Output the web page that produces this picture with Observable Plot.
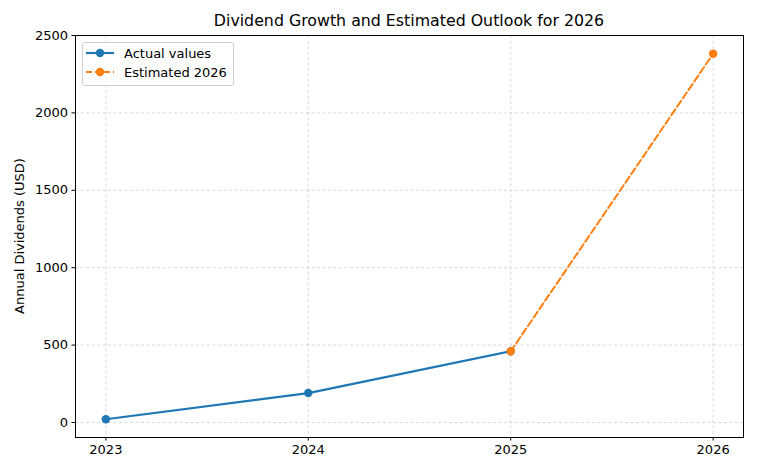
<!DOCTYPE html>
<html><head><meta charset="utf-8">
<script src="https://cdn.jsdelivr.net/npm/d3@7"></script>
<script src="https://cdn.jsdelivr.net/npm/@observablehq/plot@0.6"></script>
<style>
body{margin:0;background:#fff;font-family:"DejaVu Sans",sans-serif;}
#wrap{position:relative;width:758px;height:474px;overflow:hidden;}
#title{position:absolute;left:75px;width:668px;top:11px;text-align:center;font-size:15.8px;color:#000;line-height:20px;}
#ylab{position:absolute;left:20px;top:236px;transform:translate(-50%,-50%) rotate(-90deg);font-size:13px;white-space:nowrap;line-height:16px;}
#legend{position:absolute;left:82px;top:42px;width:150px;height:42px;border:1px solid #d0d0d0;border-radius:3px;background:rgba(255,255,255,0.8);font-size:13px;}
.row{position:absolute;left:2px;height:20px;display:flex;align-items:center;}
.row span{margin-left:9px;}
</style></head><body>
<div id="wrap"></div>
<script>
const years = [2023, 2024, 2025];
const actual = [21, 190, 460];
const estYears = [2025, 2026];
const estimated = [460, 2382];
const xTicks = [2023, 2024, 2025, 2026];
const yTicks = [0, 500, 1000, 1500, 2000, 2500];
const titleText = "Dividend Growth and Estimated Outlook for 2026";
const yLabel = "Annual Dividends (USD)";
const seriesNames = ["Actual values", "Estimated 2026"];
const colors = ["#1f77b4", "#ff7f0e"];

const actualData = years.map((y, i) => ({year: y, value: actual[i]}));
const estData = estYears.map((y, i) => ({year: y, value: estimated[i]}));

const chart = Plot.plot({
  width: 758, height: 474,
  marginLeft: 75, marginRight: 15, marginTop: 35, marginBottom: 37,
  style: {fontFamily: "DejaVu Sans, sans-serif", fontSize: "13px", background: "white", color: "black"},
  x: {type: "linear", domain: [2022.85, 2026.15]},
  y: {domain: [-97, 2500]},
  marks: [
    Plot.ruleX(xTicks, {x: d => d, stroke: "#b0b0b0", strokeOpacity: 0.6, strokeWidth: 0.8, strokeDasharray: "3,2.5"}),
    Plot.ruleY(yTicks, {y: d => d, stroke: "#b0b0b0", strokeOpacity: 0.6, strokeWidth: 0.8, strokeDasharray: "3,2.5"}),
    Plot.axisX({ticks: xTicks, tickFormat: d => String(d), tickSize: 3.5, tickPadding: 4, fontSize: 13, label: null, stroke: "black"}),
    Plot.axisY({ticks: yTicks, tickFormat: d => String(d), tickSize: 3.5, tickPadding: 4, fontSize: 13, label: null, stroke: "black"}),
    Plot.line(actualData, {x: "year", y: "value", stroke: colors[0], strokeWidth: 2.2}),
    Plot.dot(actualData, {x: "year", y: "value", fill: colors[0], r: 4.2}),
    Plot.line(estData, {x: "year", y: "value", stroke: colors[1], strokeWidth: 2, strokeDasharray: "7,3.2"}),
    Plot.dot(estData, {x: "year", y: "value", fill: colors[1], r: 4.2}),
    Plot.frame({stroke: "black", strokeWidth: 1})
  ]
});
const wrap = document.getElementById("wrap");
wrap.appendChild(chart);
chart.style.position = "absolute"; chart.style.left = "0"; chart.style.top = "0";

const t = document.createElement("div"); t.id = "title"; t.textContent = titleText; wrap.appendChild(t);
const yl = document.createElement("div"); yl.id = "ylab"; yl.textContent = yLabel; wrap.appendChild(yl);
const lg = document.createElement("div"); lg.id = "legend"; wrap.appendChild(lg);
seriesNames.forEach((name, i) => {
  const row = document.createElement("div"); row.className = "row"; row.style.top = (0 + i * 19.4) + "px";
  const dash = i === 1 ? 'stroke-dasharray="6,3"' : '';
  row.innerHTML = `<svg width="30" height="20"><line x1="1" x2="29" y1="10" y2="10" stroke="${colors[i]}" stroke-width="${i===0?2.2:2}" ${dash}/><circle cx="15" cy="10" r="4.2" fill="${colors[i]}"/></svg><span>${name}</span>`;
  lg.appendChild(row);
});
</script>
</body></html>
